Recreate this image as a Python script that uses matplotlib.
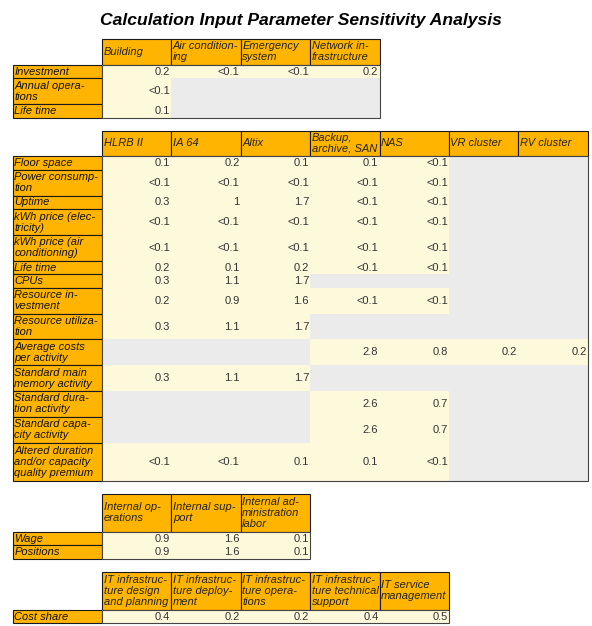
import matplotlib
matplotlib.use("Agg")
import matplotlib.pyplot as plt
from matplotlib.patches import Rectangle

plt.rcParams['font.family'] = ['Liberation Sans', 'DejaVu Sans']

ORANGE = '#FFB500'
LIGHT = '#FFF9DC'
GRAY = '#EBEBEB'
EDGE = '#1a1a1a'

title = "Calculation Input Parameter Sensitivity Analysis"

# infrastructure
infra_cols = ["Building", "Air condition-\ning", "Emergency\nsystem", "Network in-\nfrastructure"]
infra_rows = ["Investment", "Annual opera-\ntions", "Life time"]
infra_vals = [["0.2", "<0.1", "<0.1", "0.2"],
              ["<0.1", None, None, None],
              ["0.1", None, None, None]]

# IT resources
res_cols = ["HLRB II", "IA 64", "Altix", "Backup,\narchive, SAN", "NAS", "VR cluster", "RV cluster"]
res_rows = ["Floor space", "Power consump-\ntion", "Uptime", "kWh price (elec-\ntricity)",
            "kWh price (air\nconditioning)", "Life time", "CPUs", "Resource in-\nvestment",
            "Resource utiliza-\ntion", "Average costs\nper activity", "Standard main\nmemory activity",
            "Standard dura-\ntion activity", "Standard capa-\ncity activity",
            "Altered duration\nand/or capacity\nquality premium"]
res_vals = [["0.1", "0.2", "0.1", "0.1", "<0.1", None, None],
            ["<0.1", "<0.1", "<0.1", "<0.1", "<0.1", None, None],
            ["0.3", "1", "1.7", "<0.1", "<0.1", None, None],
            ["<0.1", "<0.1", "<0.1", "<0.1", "<0.1", None, None],
            ["<0.1", "<0.1", "<0.1", "<0.1", "<0.1", None, None],
            ["0.2", "0.1", "0.2", "<0.1", "<0.1", None, None],
            ["0.3", "1.1", "1.7", None, None, None, None],
            ["0.2", "0.9", "1.6", "<0.1", "<0.1", None, None],
            ["0.3", "1.1", "1.7", None, None, None, None],
            [None, None, None, "2.8", "0.8", "0.2", "0.2"],
            ["0.3", "1.1", "1.7", None, None, None, None],
            [None, None, None, "2.6", "0.7", None, None],
            [None, None, None, "2.6", "0.7", None, None],
            ["<0.1", "<0.1", "0.1", "0.1", "<0.1", None, None]]

# staff
staff_cols = ["Internal op-\nerations", "Internal sup-\nport", "Internal ad-\nministration\nlabor"]
staff_rows = ["Wage", "Positions"]
staff_vals = [["0.9", "1.6", "0.1"],
              ["0.9", "1.6", "0.1"]]

# processes
proc_cols = ["IT infrastruc-\nture design\nand planning", "IT infrastruc-\nture deploy-\nment",
             "IT infrastruc-\nture opera-\ntions", "IT infrastruc-\nture technical\nsupport",
             "IT service\nmanagement"]
proc_rows = ["Cost share"]
proc_vals = [["0.4", "0.2", "0.2", "0.4", "0.5"]]

X0 = 13.0
LABEL_W = 89.0
COL_W = 69.4
FS = 8
LS = 1.12


def row_h(label):
    return 1.2 + 12.3 * (label.count("\n") + 1)


def draw_table(ax, top, cols, rows, vals):
    xv = X0 + LABEL_W
    hh = max(row_h(c) for c in cols)
    for j, c in enumerate(cols):
        x = xv + j * COL_W
        ax.add_patch(Rectangle((x, top), COL_W, hh, fc=ORANGE, ec=EDGE, lw=0.8))
        ax.text(x + 1.5, top + hh / 2, c, ha='left', va='center', fontsize=FS,
                style='italic', color='#222222', linespacing=LS)
    y = top + hh
    for i, r in enumerate(rows):
        h = row_h(r)
        ax.add_patch(Rectangle((X0, y), LABEL_W, h, fc=ORANGE, ec=EDGE, lw=0.8))
        ax.text(X0 + 1.5, y + h / 2, r, ha='left', va='center', fontsize=FS,
                style='italic', color='#111111', linespacing=LS)
        for j, v in enumerate(vals[i]):
            x = xv + j * COL_W
            ax.add_patch(Rectangle((x, y), COL_W, h, fc=LIGHT if v else GRAY, ec='none', lw=0))
            if v:
                ax.text(x + COL_W - 1.2, y + h / 2, v, ha='right', va='center',
                        fontsize=FS, color='#333333')
        y += h
    ax.add_patch(Rectangle((xv, top + hh), len(cols) * COL_W, y - top - hh,
                           fill=False, ec='#444444', lw=0.8, zorder=3))
    return y


fig = plt.figure(figsize=(5.92, 6.26), dpi=100)
ax = fig.add_axes([0, 0, 1, 1])
ax.set_xlim(0, 592)
ax.set_ylim(626, 0)
ax.axis('off')

ax.text(301, 24.5, title, ha='center', va='baseline', fontsize=12.6,
        fontweight='bold', style='italic', color='#000000')

GAP = 13.0
y = draw_table(ax, 39.0, infra_cols, infra_rows, infra_vals)
y = draw_table(ax, y + GAP, res_cols, res_rows, res_vals)
y = draw_table(ax, y + GAP, staff_cols, staff_rows, staff_vals)
y = draw_table(ax, y + GAP, proc_cols, proc_rows, proc_vals)

fig.savefig("out.png", dpi=100)
